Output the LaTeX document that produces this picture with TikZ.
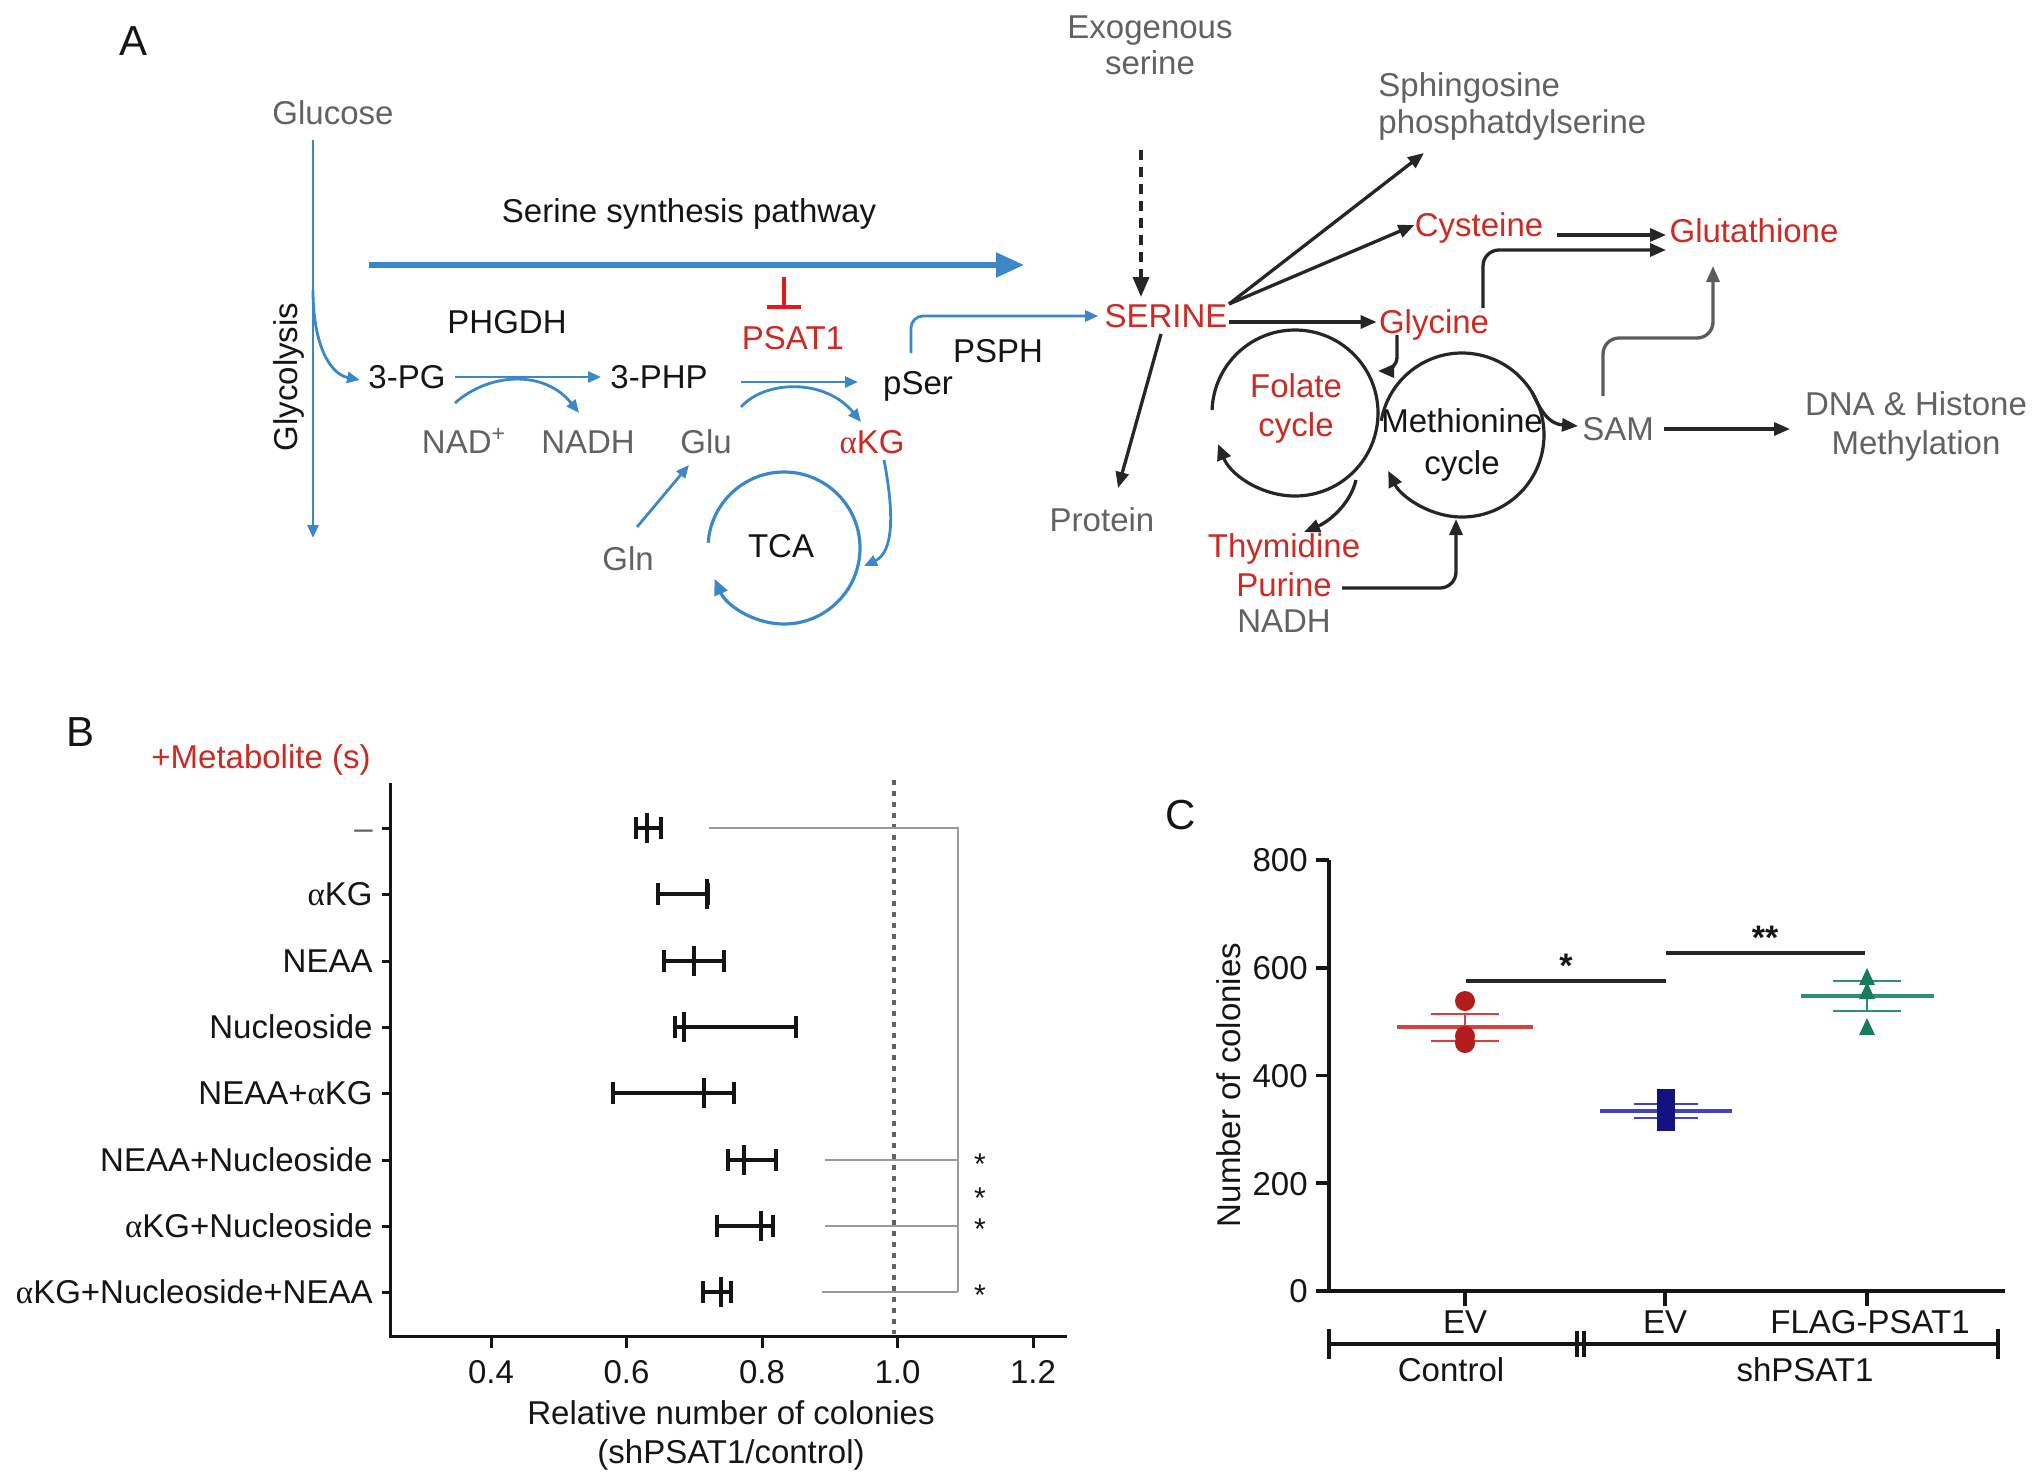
\documentclass[tikz,border=0pt]{standalone}
\usepackage{fontspec}
\setmainfont{Liberation Sans}
\newfontfamily\alf{Liberation Serif}
\usetikzlibrary{arrows.meta}
\definecolor{pblue}{HTML}{3A88C9}
\definecolor{tred}{HTML}{CC2A22}
\definecolor{bred}{HTML}{E3191C}
\definecolor{tgray}{HTML}{626262}
\definecolor{tblack}{HTML}{151515}
\definecolor{kline}{HTML}{262626}
\definecolor{brgray}{HTML}{9A9A9A}
\definecolor{rpt}{HTML}{B41B1B}
\definecolor{rln}{HTML}{D84040}
\definecolor{bpt}{HTML}{14127F}
\definecolor{bln}{HTML}{4343C0}
\definecolor{gpt}{HTML}{1A7A5C}
\definecolor{gln}{HTML}{2F9070}
\newcommand{\astk}[1]{\raisebox{-0.43em}[0.29em][0pt]{#1}}
\tikzset{
  t/.style={font=\fontsize{16.5}{19.5}\selectfont, inner sep=0pt, text height=11.9pt, text depth=0pt, text=tblack},
  tg/.style={t, text=tgray},
  tr/.style={t, text=tred},
  lab/.style={font=\fontsize{21}{24}\selectfont, inner sep=0pt, text height=15.1pt, text depth=0pt, text=tblack},
  star/.style={font=\fontsize{15}{17}\selectfont, inner sep=0pt, text=tblack},
  bstar/.style={font=\bfseries\fontsize{17}{19}\selectfont, inner sep=0pt, text=tblack},
  barrow/.style={draw=pblue, line width=1.4pt, -{Triangle[length=6.5pt,width=5.5pt]}},
  bigarrow/.style={draw=pblue, line width=2.6pt, -{Triangle[length=14pt,width=12pt]}},
  karrow/.style={draw=kline, line width=1.65pt, -{Triangle[length=8pt,width=6.5pt]}},
  kgarrow/.style={draw=kline!75, line width=1.65pt, -{Triangle[length=8pt,width=6.5pt]}},
  dasharrow/.style={draw=kline, line width=1.8pt, dash pattern=on 5pt off 3.5pt, -{Triangle[length=10pt,width=8pt]}},
  kcirc/.style={draw=kline, line width=1.6pt, -{Triangle[length=8pt,width=7pt]}},
  bcirc/.style={draw=pblue, line width=1.6pt, -{Triangle[length=8pt,width=7pt]}},
  axisline/.style={draw=tblack, line width=1.5pt},
  ebar/.style={draw=tblack, line width=2.4pt},
  brk/.style={draw=brgray, line width=1.1pt},
}
\begin{document}
\begin{tikzpicture}[x=0.5pt,y=-0.5pt]
\useasboundingbox (0,0) rectangle (2032,1483);

%================ Panel A =================
\node[lab] (labA) at (134,40) {A};
\node[tg] (glucose) at (333,113) {Glucose};
\node[t, rotate=90] (glyco) at (286,377) {Glycolysis};
\coordinate (gtop) at (313,140);
\coordinate (gbot) at (313,538);
\draw[barrow] (gtop) -- (gbot);
\coordinate (gbr) at (313,290);
\node[t] (pg) at (407,377) {3-PG};
\coordinate (pgin) at (360,380);
\draw[barrow] (gbr) .. controls (313,345) and (330,374) .. (pgin);

\node[t] (ssp) at (689,211) {Serine synthesis pathway};
\coordinate (sspL) at (369,265);
\coordinate (sspR) at (1024,265);
\draw[bigarrow] (sspL) -- (sspR);

\node[t] (phgdh) at (507,322) {PHGDH};
\node[t] (php) at (659,377) {3-PHP};
\coordinate (pgE) at (455,377);
\coordinate (phpW) at (601,377);
\draw[barrow] (pgE) -- (phpW);

\node[tg] (nad) at (464,442) {NAD\textsuperscript{+}};
\node[tg] (nadh) at (588,442) {NADH};
\coordinate (nadS) at (455,403);
\coordinate (nadhE) at (579,413);
\draw[barrow] (nadS) .. controls (490,372) and (545,370) .. (nadhE);

\node[t] (pser) at (918,383) {pSer};
\coordinate (phpE) at (741,382);
\coordinate (pserW) at (858,382);
\draw[barrow] (phpE) -- (pserW);

\node[tg] (glu) at (706,442) {Glu};
\node[tr] (akg) at (872,442) {{\alf α}KG};
\coordinate (gluS) at (741,407);
\coordinate (akgE) at (861,422);
\draw[barrow] (gluS) .. controls (765,380) and (825,378) .. (akgE);

\node[tr] (psat1) at (793,338) {PSAT1};
\coordinate (inhT) at (784,277);
\coordinate (inhB) at (784,309);
\draw[draw=bred, line width=2pt, -{Bar[width=17pt,line width=2pt]}] (inhT) -- (inhB);

\node[t] (psph) at (998,351) {PSPH};
\node[tr] (serine) at (1166,316) {SERINE};
\coordinate (pserT) at (911,353);
\draw[barrow, rounded corners=6pt] (pserT) |- ([xshift=-3pt]serine.west);

\node[tg] (gln) at (628,559) {Gln};
\coordinate (glnS) at (637,527);
\coordinate (gluB) at (689,465);
\draw[barrow] (glnS) -- (gluB);

\coordinate (tcac) at (784,548);
\node[t] (tca) at (781,546) {TCA};
\draw[bcirc] (tcac) ++(176:38pt) arc[start angle=176, end angle=-156, radius=38pt];
\coordinate (akgS) at (884,460);
\coordinate (tcaR) at (864,566);
\draw[barrow] (akgS) .. controls (894,512) and (894,552) .. (tcaR);

% right part of A
\node[tg] (exo1) at (1150,27) {Exogenous};
\node[tg] (exo2) at (1150,63) {serine};
\coordinate (exoA) at (1141,150);
\coordinate (exoB) at (1141,297);
\draw[dasharrow] (exoA) -- (exoB);

\node[tg, anchor=west] (sph1) at (1378,85) {Sphingosine};
\node[tg, anchor=west] (sph2) at (1378,122) {phosphatdylserine};
\coordinate (serNE) at (1229,304);
\coordinate (sphT) at (1424,153);
\draw[karrow] (serNE) -- (sphT);

\node[tr] (cys) at (1479,225) {Cysteine};
\draw[karrow] (serNE) -- (cys.west);

\node[tr] (gly) at (1434,322) {Glycine};
\coordinate (serE) at (1229,322);
\draw[karrow] (serE) -- ([xshift=-1pt]gly.west);

\node[tg] (protein) at (1102,520) {Protein};
\coordinate (serS) at (1161,334);
\coordinate (protT) at (1118,488);
\draw[karrow] (serS) -- (protT);

\node[tr] (glut) at (1754,231) {Glutathione};
\coordinate (cysE) at (1557,235);
\coordinate (glutA) at (1666,235);
\draw[karrow] (cysE) -- (glutA);
\coordinate (glyT) at (1483,308);
\coordinate (glutB) at (1666,250);
\draw[karrow, rounded corners=8pt] (glyT) |- (glutB);

\node[tg] (sam) at (1618,429) {SAM};
\coordinate (samT) at (1603,396);
\coordinate (samC) at (1713,338);
\coordinate (glutU) at (1713,266);
\draw[kgarrow, rounded corners=8pt] (samT) |- (samC) -- (glutU);

\node[tg] (dna1) at (1916,404) {DNA \& Histone};
\node[tg] (dna2) at (1916,443) {Methylation};
\coordinate (samE) at (1664,429);
\coordinate (dnaW) at (1790,429);
\draw[karrow] (samE) -- (dnaW);

\coordinate (folc) at (1295,413);
\node[tr] (fol1) at (1296,386) {Folate};
\node[tr] (fol2) at (1296,425) {cycle};
\draw[kcirc] (folc) ++(178:41.5pt) arc[start angle=178, end angle=-158, radius=41.5pt];

\coordinate (metc) at (1462,435);
\node[t] (met1) at (1462,421) {Methionine};
\node[t] (met2) at (1462,463) {cycle};
\draw[kcirc] (metc) ++(170:41pt) arc[start angle=170, end angle=-154, radius=41pt];

\coordinate (glyB) at (1397,335);
\coordinate (folR) at (1378,371);
\draw[karrow, rounded corners=7pt] (glyB) |- (folR);

\node[tr] (thy) at (1284,546) {Thymidine};
\node[tr] (pur) at (1284,585) {Purine};
\node[tg] (nadh2) at (1284,621) {NADH};
\coordinate (folB) at (1356,480);
\coordinate (thyT) at (1304,532);
\draw[karrow] (folB) .. controls (1350,505) and (1328,522) .. (thyT);

\coordinate (purE) at (1342,588);
\coordinate (metB) at (1456,519);
\draw[karrow, rounded corners=8pt] (purE) -| (metB);

\coordinate (metR) at (1532,392);
\coordinate (samW) at (1578,426);
\draw[karrow] (metR) .. controls (1542,414) and (1550,424) .. (samW);

%================ Panel B =================
\node[lab] (labB) at (81,731) {B};
\node[tr] (metab) at (261,757) {+Metabolite (s)};
\coordinate (bTop) at (390,783);
\coordinate (bO) at (390,1336);
\coordinate (bRight) at (1067,1336);
\draw[axisline] (bTop) -- (bO) -- (bRight);

\node[tg, anchor=east] (r1) at (373,828) {–};
\node[t, anchor=east] (r2) at (373,894) {{\alf α}KG};
\node[t, anchor=east] (r3) at (373,961) {NEAA};
\node[t, anchor=east] (r4) at (373,1027) {Nucleoside};
\node[t, anchor=east] (r5) at (373,1093) {NEAA+{\alf α}KG};
\node[t, anchor=east] (r6) at (373,1160) {NEAA+Nucleoside};
\node[t, anchor=east] (r7) at (373,1226) {{\alf α}KG+Nucleoside};
\node[t, anchor=east] (r8) at (373,1292) {{\alf α}KG+Nucleoside+NEAA};

\foreach \y in {828,894,961,1027,1093,1160,1226,1292}{
  \draw[axisline] (382,\y) -- (390,\y);
}
\foreach \xx/\lab in {491/0.4, 626.5/0.6, 762/0.8, 897.5/1.0, 1033/1.2}{
  \draw[axisline] (\xx,1336) -- (\xx,1348);
  \node[t] at (\xx,1372) {\lab};
}
\draw[draw=tgray, line width=1.6pt, dash pattern=on 2.5pt off 3pt] (894,780) -- (894,1334);

\foreach \y/\lo/\mi/\hi in {828/636/647/661, 894/658/707/708, 961/664/694/724, 1027/675/684/796, 1093/613/704/734, 1160/728/744/776, 1226/717/761/773, 1292/703/721/731}{
  \draw[ebar] (\lo,\y) -- (\hi,\y);
  \draw[ebar] (\lo,\y-11) -- (\lo,\y+11);
  \draw[ebar] (\hi,\y-11) -- (\hi,\y+11);
  \draw[ebar] (\mi,\y-15) -- (\mi,\y+15);
}
\draw[brk] (709,828) -- (958,828) -- (958,1292);
\draw[brk] (825,1160) -- (958,1160);
\draw[brk] (825,1226) -- (958,1226);
\draw[brk] (822,1292) -- (958,1292);
\node[star] (s1) at (980,1157) {\astk{*}};
\node[star] (s2) at (980,1191) {\astk{*}};
\node[star] (s3) at (980,1222) {\astk{*}};
\node[star] (s4) at (980,1288) {\astk{*}};

\node[t] (xl1) at (731,1413) {Relative number of colonies};
\node[t] (xl2) at (731,1452) {(shPSAT1/control)};

%================ Panel C =================
\node[lab] (labC) at (1181,814) {C};
\coordinate (cTop) at (1329,860);
\coordinate (cO) at (1329,1291);
\coordinate (cRight) at (2005,1291);
\draw[axisline, line width=1.8pt] (cTop) -- (cO) -- (cRight);
\foreach \yy/\lab in {1291/0, 1183.2/200, 1075.5/400, 967.7/600, 860/800}{
  \draw[axisline, line width=1.8pt] (1316,\yy) -- (1329,\yy);
  \node[t, anchor=east] at (1308,\yy) {\lab};
}
\foreach \xx in {1465,1665,1867}{
  \draw[axisline, line width=1.8pt] (\xx,1291) -- (\xx,1306);
}
\node[t] (ev1) at (1465,1322) {EV};
\node[t] (ev2) at (1665,1322) {EV};
\node[t] (flag) at (1870,1322) {FLAG-PSAT1};
\coordinate (gL) at (1329,1344);
\coordinate (gR) at (1998,1344);
\draw[axisline, line width=1.8pt] (gL) -- (gR);
\draw[axisline, line width=1.8pt] (1329,1329) -- (1329,1359);
\draw[axisline, line width=1.8pt] (1998,1329) -- (1998,1359);
\draw[axisline, line width=1.8pt] (1577,1331) -- (1577,1357);
\draw[axisline, line width=1.8pt] (1584,1331) -- (1584,1357);
\node[t] (ctrl) at (1451,1370) {Control};
\node[t] (shp) at (1805,1370) {shPSAT1};
\node[t, rotate=90] (ylab) at (1229,1085) {Number of colonies};

% red group
\draw[draw=rln, line width=1.8pt] (1397,1027) -- (1533,1027);
\draw[draw=rln, line width=1.3pt] (1431,1014) -- (1499,1014);
\draw[draw=rln, line width=1.3pt] (1431,1041) -- (1499,1041);
\draw[draw=rln, line width=1.3pt] (1465,1014) -- (1465,1041);
\fill[rpt] (1465,1001) circle[radius=5pt];
\fill[rpt] (1465,1036) circle[radius=5pt];
\fill[rpt] (1465,1043) circle[radius=5pt];

% blue group
\draw[draw=bln, line width=1.8pt] (1600,1111) -- (1732,1111);
\draw[draw=bln, line width=1.3pt] (1634,1104) -- (1698,1104);
\draw[draw=bln, line width=1.3pt] (1634,1118) -- (1698,1118);
\fill[bpt] (1657,1089) rectangle (1675,1107);
\fill[bpt] (1657,1101) rectangle (1675,1119);
\fill[bpt] (1657,1113) rectangle (1675,1131);

% green group
\draw[draw=gln, line width=1.8pt] (1801,996) -- (1934,996);
\draw[draw=gln, line width=1.3pt] (1833,981) -- (1901,981);
\draw[draw=gln, line width=1.3pt] (1833,1011) -- (1901,1011);
\draw[draw=gln, line width=1.3pt] (1867,978) -- (1867,1011);
\foreach \yc in {977,991,1027}{
  \fill[gpt] (1867,\yc-9) -- (1875,\yc+8) -- (1859,\yc+8) -- cycle;
}

% significance
\coordinate (sA) at (1466,981);
\coordinate (sB) at (1666,981);
\draw[draw=kline, line width=1.8pt] (sA) -- (sB);
\node[bstar] (cs1) at (1566,958) {\astk{*}};
\coordinate (sC) at (1666,953);
\coordinate (sD) at (1865,953);
\draw[draw=kline, line width=1.8pt] (sC) -- (sD);
\node[bstar] (cs2) at (1765,930) {\astk{**}};
\end{tikzpicture}
\end{document}
